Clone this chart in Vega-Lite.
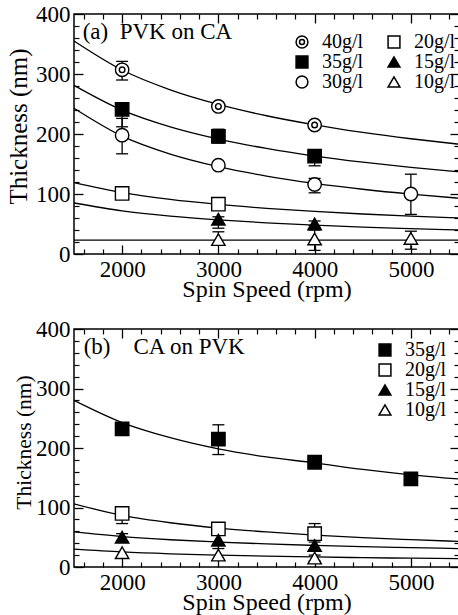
{
  "$schema": "https://vega.github.io/schema/vega-lite/v6.json",
  "background": "white",
  "padding": {"left": 5, "top": 2, "right": 0, "bottom": 0},
  "spacing": 15,
  "resolve": {"scale": {"shape": "independent", "fill": "independent"}, "legend": {"shape": "independent"}},
  "config": {
    "font": "Liberation Serif",
    "view": {"stroke": "black", "strokeWidth": 1.5},
    "axis": {"grid": false, "domain": false, "tickColor": "black", "labelColor": "black", "titleColor": "black", "labelFont": "Liberation Serif", "titleFont": "Liberation Serif", "labelFontSize": 23, "titleFontSize": 24, "titleFontWeight": "normal", "labelFlush": false, "labelOverlap": false},
    "legend": {"labelFont": "Liberation Serif", "labelFontSize": 20, "labelColor": "black", "symbolSize": 140, "labelOffset": 10}
  },
  "datasets": {
    "curvesA": [
      {"series": "40g/l", "rpm": 1500, "t": 355}, {"series": "40g/l", "rpm": 2000, "t": 306.6}, {"series": "40g/l", "rpm": 2500, "t": 273.6}, {"series": "40g/l", "rpm": 3000, "t": 249.3}, {"series": "40g/l", "rpm": 3500, "t": 230.4}, {"series": "40g/l", "rpm": 4000, "t": 215.3}, {"series": "40g/l", "rpm": 4500, "t": 202.7}, {"series": "40g/l", "rpm": 5000, "t": 192.1}, {"series": "40g/l", "rpm": 5500, "t": 183},
      {"series": "35g/l", "rpm": 1500, "t": 281}, {"series": "35g/l", "rpm": 2000, "t": 239.7}, {"series": "35g/l", "rpm": 2500, "t": 211.8}, {"series": "35g/l", "rpm": 3000, "t": 191.5}, {"series": "35g/l", "rpm": 3500, "t": 175.9}, {"series": "35g/l", "rpm": 4000, "t": 163.3}, {"series": "35g/l", "rpm": 4500, "t": 153.1}, {"series": "35g/l", "rpm": 5000, "t": 144.4}, {"series": "35g/l", "rpm": 5500, "t": 137},
      {"series": "30g/l", "rpm": 1500, "t": 243}, {"series": "30g/l", "rpm": 2000, "t": 196.5}, {"series": "30g/l", "rpm": 2500, "t": 166.6}, {"series": "30g/l", "rpm": 3000, "t": 145.6}, {"series": "30g/l", "rpm": 3500, "t": 129.9}, {"series": "30g/l", "rpm": 4000, "t": 117.7}, {"series": "30g/l", "rpm": 4500, "t": 107.9}, {"series": "30g/l", "rpm": 5000, "t": 99.8}, {"series": "30g/l", "rpm": 5500, "t": 93},
      {"series": "20g/l", "rpm": 1500, "t": 119}, {"series": "20g/l", "rpm": 2000, "t": 102.3}, {"series": "20g/l", "rpm": 2500, "t": 90.9}, {"series": "20g/l", "rpm": 3000, "t": 82.6}, {"series": "20g/l", "rpm": 3500, "t": 76.1}, {"series": "20g/l", "rpm": 4000, "t": 71.0}, {"series": "20g/l", "rpm": 4500, "t": 66.7}, {"series": "20g/l", "rpm": 5000, "t": 63.1}, {"series": "20g/l", "rpm": 5500, "t": 60},
      {"series": "15g/l", "rpm": 1500, "t": 85}, {"series": "15g/l", "rpm": 2000, "t": 71.9}, {"series": "15g/l", "rpm": 2500, "t": 63.2}, {"series": "15g/l", "rpm": 3000, "t": 56.9}, {"series": "15g/l", "rpm": 3500, "t": 52.0}, {"series": "15g/l", "rpm": 4000, "t": 48.1}, {"series": "15g/l", "rpm": 4500, "t": 44.9}, {"series": "15g/l", "rpm": 5000, "t": 42.3}, {"series": "15g/l", "rpm": 5500, "t": 40},
      {"series": "10g/l", "rpm": 1500, "t": 23}, {"series": "10g/l", "rpm": 3500, "t": 23}, {"series": "10g/l", "rpm": 5500, "t": 23}
    ],
    "pointsA": [
      {"series": "40g/l", "rpm": 2000, "t": 307}, {"series": "40g/l", "rpm": 3000, "t": 246}, {"series": "40g/l", "rpm": 4000, "t": 215},
      {"series": "35g/l", "rpm": 2000, "t": 241}, {"series": "35g/l", "rpm": 3000, "t": 196}, {"series": "35g/l", "rpm": 4000, "t": 163},
      {"series": "30g/l", "rpm": 2000, "t": 198}, {"series": "30g/l", "rpm": 3000, "t": 148}, {"series": "30g/l", "rpm": 4000, "t": 116}, {"series": "30g/l", "rpm": 5000, "t": 100},
      {"series": "20g/l", "rpm": 2000, "t": 101}, {"series": "20g/l", "rpm": 3000, "t": 83},
      {"series": "15g/l", "rpm": 3000, "t": 58}, {"series": "15g/l", "rpm": 4000, "t": 50},
      {"series": "10g/l", "rpm": 3000, "t": 24}, {"series": "10g/l", "rpm": 4000, "t": 25}, {"series": "10g/l", "rpm": 5000, "t": 26}
    ],
    "errA": [
      {"series": "40g/l", "rpm": 2000, "lo": 290, "hi": 321}, {"series": "40g/l", "rpm": 3000, "lo": 240, "hi": 252}, {"series": "40g/l", "rpm": 4000, "lo": 209, "hi": 221},
      {"series": "35g/l", "rpm": 2000, "lo": 212, "hi": 250}, {"series": "35g/l", "rpm": 3000, "lo": 185, "hi": 208}, {"series": "35g/l", "rpm": 4000, "lo": 147, "hi": 172},
      {"series": "30g/l", "rpm": 2000, "lo": 167, "hi": 226}, {"series": "30g/l", "rpm": 4000, "lo": 102, "hi": 126}, {"series": "30g/l", "rpm": 5000, "lo": 66, "hi": 133},
      {"series": "15g/l", "rpm": 3000, "lo": 43, "hi": 62}, {"series": "15g/l", "rpm": 4000, "lo": 47, "hi": 55},
      {"series": "10g/l", "rpm": 3000, "lo": 16, "hi": 37}, {"series": "10g/l", "rpm": 4000, "lo": 6, "hi": 40}, {"series": "10g/l", "rpm": 5000, "lo": 8, "hi": 38}
    ],
    "curvesB": [
      {"series": "35g/l", "rpm": 1500, "t": 280}, {"series": "35g/l", "rpm": 2000, "t": 242.7}, {"series": "35g/l", "rpm": 2500, "t": 217.3}, {"series": "35g/l", "rpm": 3000, "t": 198.5}, {"series": "35g/l", "rpm": 3500, "t": 185}, {"series": "35g/l", "rpm": 4000, "t": 175}, {"series": "35g/l", "rpm": 4500, "t": 164}, {"series": "35g/l", "rpm": 5000, "t": 155}, {"series": "35g/l", "rpm": 5500, "t": 148},
      {"series": "20g/l", "rpm": 1500, "t": 106}, {"series": "20g/l", "rpm": 2000, "t": 86.8}, {"series": "20g/l", "rpm": 2500, "t": 74.4}, {"series": "20g/l", "rpm": 3000, "t": 65.5}, {"series": "20g/l", "rpm": 3500, "t": 58.9}, {"series": "20g/l", "rpm": 4000, "t": 53.7}, {"series": "20g/l", "rpm": 4500, "t": 49.4}, {"series": "20g/l", "rpm": 5000, "t": 46.0}, {"series": "20g/l", "rpm": 5500, "t": 43},
      {"series": "15g/l", "rpm": 1500, "t": 59}, {"series": "15g/l", "rpm": 2000, "t": 51.2}, {"series": "15g/l", "rpm": 2500, "t": 45.8}, {"series": "15g/l", "rpm": 3000, "t": 41.9}, {"series": "15g/l", "rpm": 3500, "t": 38.8}, {"series": "15g/l", "rpm": 4000, "t": 36.3}, {"series": "15g/l", "rpm": 4500, "t": 34.2}, {"series": "15g/l", "rpm": 5000, "t": 32.5}, {"series": "15g/l", "rpm": 5500, "t": 31},
      {"series": "10g/l", "rpm": 1500, "t": 30}, {"series": "10g/l", "rpm": 2000, "t": 25.3}, {"series": "10g/l", "rpm": 2500, "t": 22.2}, {"series": "10g/l", "rpm": 3000, "t": 20.0}, {"series": "10g/l", "rpm": 3500, "t": 18.2}, {"series": "10g/l", "rpm": 4000, "t": 16.9}, {"series": "10g/l", "rpm": 4500, "t": 15.7}, {"series": "10g/l", "rpm": 5000, "t": 14.8}, {"series": "10g/l", "rpm": 5500, "t": 14}
    ],
    "pointsB": [
      {"series": "35g/l", "rpm": 2000, "t": 232}, {"series": "35g/l", "rpm": 3000, "t": 215}, {"series": "35g/l", "rpm": 4000, "t": 176}, {"series": "35g/l", "rpm": 5000, "t": 148},
      {"series": "20g/l", "rpm": 2000, "t": 90}, {"series": "20g/l", "rpm": 3000, "t": 64}, {"series": "20g/l", "rpm": 4000, "t": 56},
      {"series": "15g/l", "rpm": 2000, "t": 50}, {"series": "15g/l", "rpm": 3000, "t": 45}, {"series": "15g/l", "rpm": 4000, "t": 36},
      {"series": "10g/l", "rpm": 2000, "t": 24}, {"series": "10g/l", "rpm": 3000, "t": 20}, {"series": "10g/l", "rpm": 4000, "t": 15}
    ],
    "errB": [
      {"series": "35g/l", "rpm": 2000, "lo": 226, "hi": 238}, {"series": "35g/l", "rpm": 3000, "lo": 189, "hi": 239}, {"series": "35g/l", "rpm": 4000, "lo": 171, "hi": 181},
      {"series": "20g/l", "rpm": 2000, "lo": 73, "hi": 100}, {"series": "20g/l", "rpm": 3000, "lo": 58, "hi": 70}, {"series": "20g/l", "rpm": 4000, "lo": 42, "hi": 73},
      {"series": "15g/l", "rpm": 2000, "lo": 44, "hi": 56}, {"series": "15g/l", "rpm": 3000, "lo": 31, "hi": 55},
      {"series": "10g/l", "rpm": 4000, "lo": 10, "hi": 20}
    ]
  },
  "vconcat": [
    {
      "width": 385,
      "height": 240,
      "resolve": {"axis": {"x": "independent", "y": "independent"}},
      "layer": [
        {
          "data": {"name": "curvesA"},
          "mark": {"type": "line", "color": "black", "strokeWidth": 1.3, "interpolate": "monotone"},
          "encoding": {
            "x": {"field": "rpm", "type": "quantitative", "scale": {"domain": [1500, 5500], "nice": false, "zero": false},
                  "axis": {"orient": "bottom", "values": [2000, 3000, 4000, 5000], "format": "d", "tickSize": -9, "tickWidth": 1.3, "labelPadding": 13, "title": "Spin Speed (rpm)", "titlePadding": -4}},
            "y": {"field": "t", "type": "quantitative", "scale": {"domain": [0, 400], "nice": false, "zero": true},
                  "axis": {"orient": "left", "values": [0, 100, 200, 300, 400], "tickSize": -9, "tickWidth": 1.3, "labelPadding": 13, "title": "Thickness (nm)", "titleFontSize": 25, "titleY": 112, "titlePadding": 4}},
            "detail": {"field": "series"}
          }
        },
        {
          "data": {"name": "errA"},
          "mark": {"type": "rule", "color": "black", "strokeWidth": 1.3},
          "encoding": {
            "x": {"field": "rpm", "type": "quantitative", "scale": {"domain": [1500, 5500], "nice": false, "zero": false},
                  "axis": {"orient": "top", "values": [2000, 3000, 4000, 5000], "tickSize": -9, "tickWidth": 1.3, "labels": false, "title": null}},
            "y": {"field": "lo", "type": "quantitative", "scale": {"domain": [0, 400], "nice": false},
                  "axis": {"orient": "right", "values": [0, 100, 200, 300, 400], "tickSize": -9, "tickWidth": 1.3, "labels": false, "title": null}},
            "y2": {"field": "hi"}
          }
        },
        {
          "data": {"name": "errA"},
          "mark": {"type": "point", "shape": "M-1,0L1,0", "filled": false, "stroke": "black", "strokeWidth": 1.3, "size": 144, "opacity": 1},
          "encoding": {
            "x": {"field": "rpm", "type": "quantitative", "scale": {"domain": [1500, 5500], "nice": false, "zero": false},
                  "axis": {"orient": "bottom", "values": [1600, 1800, 2200, 2400, 2600, 2800, 3200, 3400, 3600, 3800, 4200, 4400, 4600, 4800, 5200, 5400], "tickSize": -5, "tickWidth": 1.2, "labels": false, "title": null}},
            "y": {"field": "lo", "type": "quantitative", "scale": {"domain": [0, 400], "nice": false},
                  "axis": {"orient": "left", "values": [20, 40, 60, 80, 120, 140, 160, 180, 220, 240, 260, 280, 320, 340, 360, 380], "tickSize": -5, "tickWidth": 1.2, "labels": false, "title": null}}
          }
        },
        {
          "data": {"name": "errA"},
          "mark": {"type": "point", "shape": "M-1,0L1,0", "filled": false, "stroke": "black", "strokeWidth": 1.3, "size": 144, "opacity": 1},
          "encoding": {
            "x": {"field": "rpm", "type": "quantitative", "scale": {"domain": [1500, 5500], "nice": false, "zero": false},
                  "axis": {"orient": "top", "values": [1600, 1800, 2200, 2400, 2600, 2800, 3200, 3400, 3600, 3800, 4200, 4400, 4600, 4800, 5200, 5400], "tickSize": -5, "tickWidth": 1.2, "labels": false, "title": null}},
            "y": {"field": "hi", "type": "quantitative", "scale": {"domain": [0, 400], "nice": false},
                  "axis": {"orient": "right", "values": [20, 40, 60, 80, 120, 140, 160, 180, 220, 240, 260, 280, 320, 340, 360, 380], "tickSize": -5, "tickWidth": 1.2, "labels": false, "title": null}}
          }
        },
        {
          "data": {"name": "pointsA"},
          "mark": {"type": "point", "filled": true, "color": "black", "stroke": "black", "strokeWidth": 1.4, "size": 180, "opacity": 1},
          "encoding": {
            "x": {"field": "rpm", "type": "quantitative", "scale": {"domain": [1500, 5500], "nice": false, "zero": false}, "axis": null},
            "y": {"field": "t", "type": "quantitative", "scale": {"domain": [0, 400], "nice": false}, "axis": null},
            "fill": {"field": "series", "type": "nominal", "legend": null,
                     "scale": {"domain": ["40g/l", "35g/l", "30g/l", "20g/l", "15g/l", "10g/l"], "range": ["white", "black", "white", "white", "black", "white"]}},
            "shape": {"field": "series", "type": "nominal",
                      "scale": {"domain": ["40g/l", "35g/l", "30g/l", "20g/l", "15g/l", "10g/l"], "range": ["M-1,0A1,1 0 1,0 1,0A1,1 0 1,0 -1,0ZM-0.42,0A0.42,0.42 0 1,0 0.42,0A0.42,0.42 0 1,0 -0.42,0Z", "square", "circle", "square", "triangle-up", "triangle-up"]},
                      "legend": {"title": null, "orient": "none", "legendX": 218, "legendY": 18, "columns": 2, "columnPadding": 20, "rowPadding": 0,
                                 "symbolFillColor": {"expr": "datum.value === '35g/l' || datum.value === '15g/l' ? 'black' : 'white'"}}}
          }
        },
        {
          "data": {"values": [{"label": "(a)\u00a0 PVK on CA"}]},
          "mark": {"type": "text", "align": "left", "baseline": "alphabetic", "fontSize": 23, "font": "Liberation Serif", "color": "black"},
          "encoding": {
            "x": {"datum": 1590, "type": "quantitative", "scale": {"domain": [1500, 5500], "nice": false, "zero": false}, "axis": null},
            "y": {"datum": 358, "type": "quantitative", "scale": {"domain": [0, 400], "nice": false}, "axis": null},
            "text": {"field": "label"}
          }
        }
      ]
    },
    {
      "width": 385,
      "height": 238,
      "resolve": {"axis": {"x": "independent", "y": "independent"}},
      "layer": [
        {
          "data": {"name": "curvesB"},
          "mark": {"type": "line", "color": "black", "strokeWidth": 1.3, "interpolate": "monotone"},
          "encoding": {
            "x": {"field": "rpm", "type": "quantitative", "scale": {"domain": [1500, 5500], "nice": false, "zero": false},
                  "axis": {"orient": "bottom", "values": [2000, 3000, 4000, 5000], "format": "d", "tickSize": -9, "tickWidth": 1.3, "labelPadding": 13, "title": "Spin Speed (rpm)", "titlePadding": -4}},
            "y": {"field": "t", "type": "quantitative", "scale": {"domain": [0, 400], "nice": false, "zero": true},
                  "axis": {"orient": "left", "values": [0, 100, 200, 300, 400], "tickSize": -9, "tickWidth": 1.3, "labelPadding": 13, "title": "Thickness (nm)", "titleFontSize": 21.5, "titleY": 113, "titlePadding": 0}},
            "detail": {"field": "series"}
          }
        },
        {
          "data": {"name": "errB"},
          "mark": {"type": "rule", "color": "black", "strokeWidth": 1.3},
          "encoding": {
            "x": {"field": "rpm", "type": "quantitative", "scale": {"domain": [1500, 5500], "nice": false, "zero": false},
                  "axis": {"orient": "top", "values": [2000, 3000, 4000, 5000], "tickSize": -9, "tickWidth": 1.3, "labels": false, "title": null}},
            "y": {"field": "lo", "type": "quantitative", "scale": {"domain": [0, 400], "nice": false},
                  "axis": {"orient": "right", "values": [0, 100, 200, 300, 400], "tickSize": -9, "tickWidth": 1.3, "labels": false, "title": null}},
            "y2": {"field": "hi"}
          }
        },
        {
          "data": {"name": "errB"},
          "mark": {"type": "point", "shape": "M-1,0L1,0", "filled": false, "stroke": "black", "strokeWidth": 1.3, "size": 144, "opacity": 1},
          "encoding": {
            "x": {"field": "rpm", "type": "quantitative", "scale": {"domain": [1500, 5500], "nice": false, "zero": false},
                  "axis": {"orient": "bottom", "values": [1600, 1800, 2200, 2400, 2600, 2800, 3200, 3400, 3600, 3800, 4200, 4400, 4600, 4800, 5200, 5400], "tickSize": -5, "tickWidth": 1.2, "labels": false, "title": null}},
            "y": {"field": "lo", "type": "quantitative", "scale": {"domain": [0, 400], "nice": false},
                  "axis": {"orient": "left", "values": [20, 40, 60, 80, 120, 140, 160, 180, 220, 240, 260, 280, 320, 340, 360, 380], "tickSize": -5, "tickWidth": 1.2, "labels": false, "title": null}}
          }
        },
        {
          "data": {"name": "errB"},
          "mark": {"type": "point", "shape": "M-1,0L1,0", "filled": false, "stroke": "black", "strokeWidth": 1.3, "size": 144, "opacity": 1},
          "encoding": {
            "x": {"field": "rpm", "type": "quantitative", "scale": {"domain": [1500, 5500], "nice": false, "zero": false},
                  "axis": {"orient": "top", "values": [1600, 1800, 2200, 2400, 2600, 2800, 3200, 3400, 3600, 3800, 4200, 4400, 4600, 4800, 5200, 5400], "tickSize": -5, "tickWidth": 1.2, "labels": false, "title": null}},
            "y": {"field": "hi", "type": "quantitative", "scale": {"domain": [0, 400], "nice": false},
                  "axis": {"orient": "right", "values": [20, 40, 60, 80, 120, 140, 160, 180, 220, 240, 260, 280, 320, 340, 360, 380], "tickSize": -5, "tickWidth": 1.2, "labels": false, "title": null}}
          }
        },
        {
          "data": {"name": "pointsB"},
          "mark": {"type": "point", "filled": true, "color": "black", "stroke": "black", "strokeWidth": 1.4, "size": 180, "opacity": 1},
          "encoding": {
            "x": {"field": "rpm", "type": "quantitative", "scale": {"domain": [1500, 5500], "nice": false, "zero": false}, "axis": null},
            "y": {"field": "t", "type": "quantitative", "scale": {"domain": [0, 400], "nice": false}, "axis": null},
            "fill": {"field": "series", "type": "nominal", "legend": null,
                     "scale": {"domain": ["35g/l", "20g/l", "15g/l", "10g/l"], "range": ["black", "white", "black", "white"]}},
            "shape": {"field": "series", "type": "nominal",
                      "scale": {"domain": ["35g/l", "20g/l", "15g/l", "10g/l"], "range": ["square", "square", "triangle-up", "triangle-up"]},
                      "legend": {"title": null, "orient": "none", "legendX": 301, "legendY": 11, "rowPadding": 0,
                                 "symbolFillColor": {"expr": "datum.value === '35g/l' || datum.value === '15g/l' ? 'black' : 'white'"}}}
          }
        },
        {
          "data": {"values": [{"label": "(b)\u00a0\u00a0\u00a0 CA on PVK"}]},
          "mark": {"type": "text", "align": "left", "baseline": "alphabetic", "fontSize": 23, "font": "Liberation Serif", "color": "black"},
          "encoding": {
            "x": {"datum": 1600, "type": "quantitative", "scale": {"domain": [1500, 5500], "nice": false, "zero": false}, "axis": null},
            "y": {"datum": 358, "type": "quantitative", "scale": {"domain": [0, 400], "nice": false}, "axis": null},
            "text": {"field": "label"}
          }
        }
      ]
    }
  ]
}
